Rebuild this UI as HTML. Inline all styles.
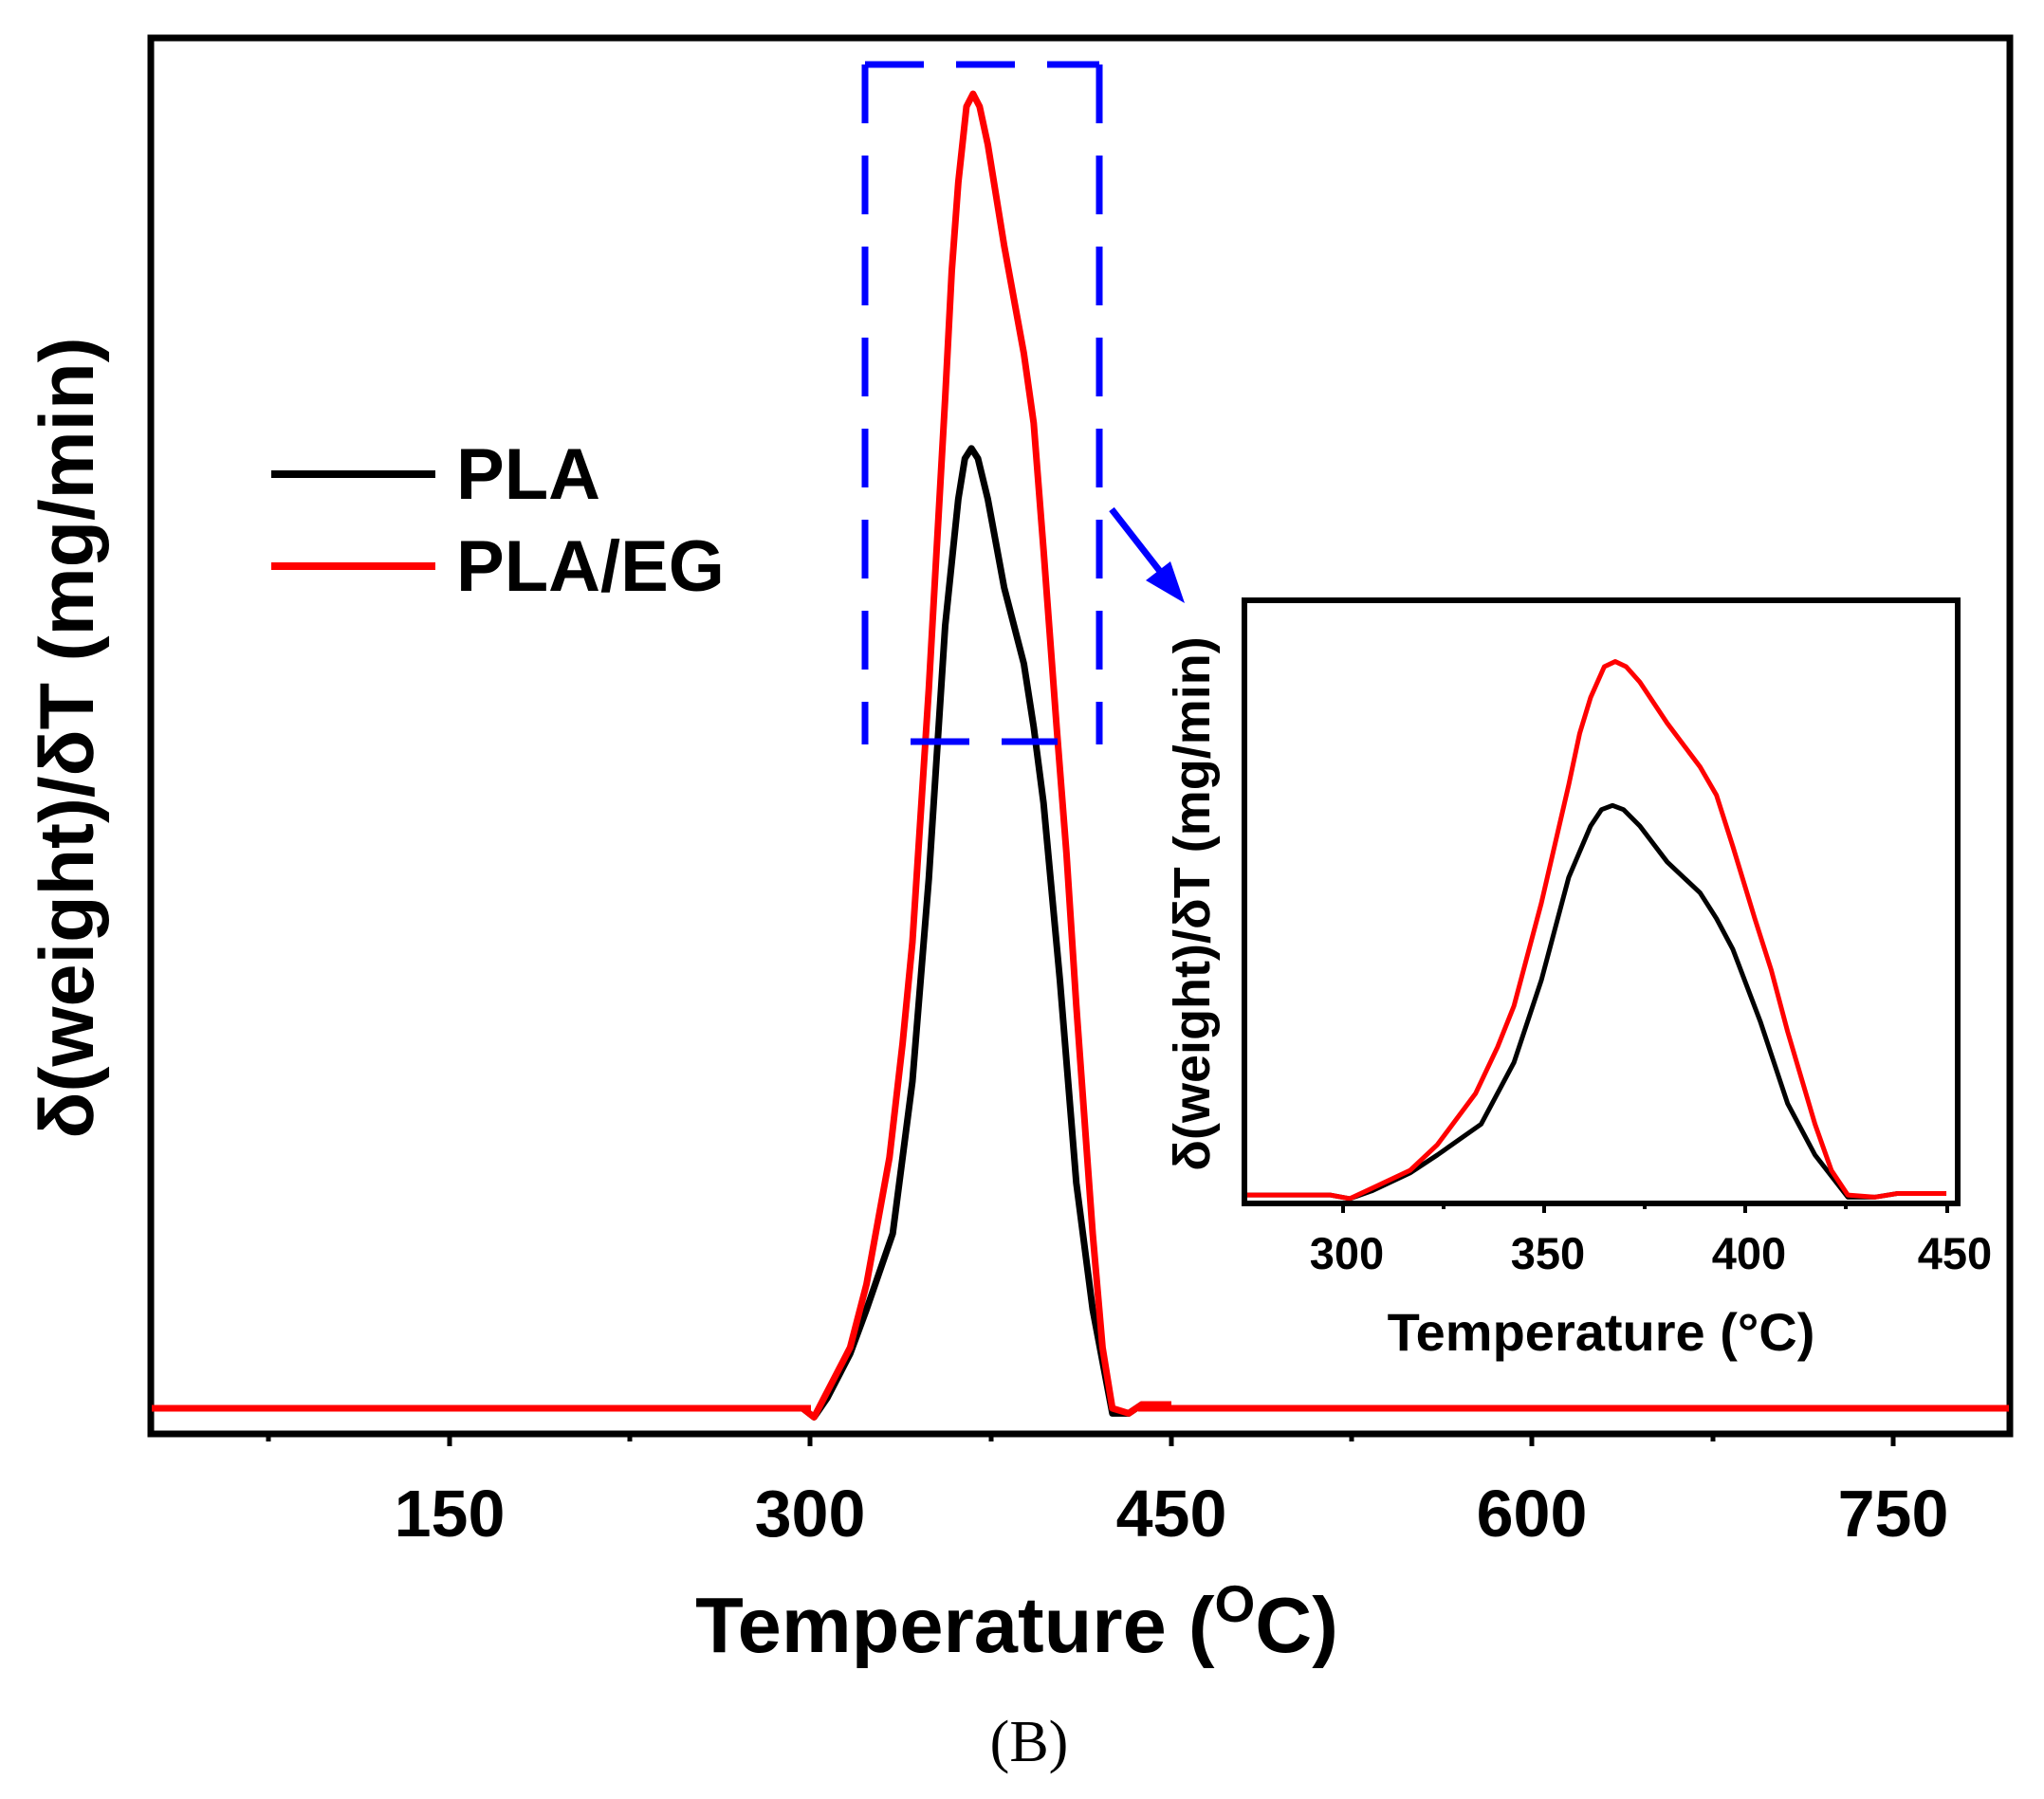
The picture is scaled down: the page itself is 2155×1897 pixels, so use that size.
<!DOCTYPE html>
<html><head><meta charset="utf-8"><style>
html,body{margin:0;padding:0;background:#fff;}
svg{display:block;}
text{font-family:"Liberation Sans",Arial,sans-serif;font-weight:bold;fill:#000;}
</style></head><body>
<svg width="2155" height="1897" viewBox="0 0 2155 1897" xmlns="http://www.w3.org/2000/svg">
<defs>
<polyline id="red" fill="none" vector-effect="non-scaling-stroke" stroke-linejoin="round" points="100,1218 265,1218 300,1225 340,1205 410,1170 460,1120 530,1020 570,930 600,850 650,650 700,420 720,320 740,250 765,190 785,180 805,190 830,220 880,300 940,385 970,440 1000,540 1040,680 1070,780 1100,900 1150,1080 1180,1170 1210,1218 1260,1222 1300,1215 1390,1215"/>
<polyline id="blk" fill="none" vector-effect="non-scaling-stroke" stroke-linejoin="round" points="100,1218 265,1218 300,1225 340,1210 410,1175 460,1140 540,1080 600,960 650,800 700,600 740,500 760,468 780,460 800,468 830,500 880,570 940,630 970,680 1000,740 1050,880 1100,1040 1150,1140 1210,1222 1260,1222 1300,1215 1390,1215"/>
</defs>
<rect x="159" y="40" width="1960" height="1472" fill="none" stroke="#000" stroke-width="7"/>
<g transform="matrix(0.3456,0,0,1.3353,754.6,-141.4)">
<use href="#blk" stroke="#000" stroke-width="7"/>
<use href="#red" stroke="#f00" stroke-width="7"/>
</g>
<line x1="160" y1="1485" x2="855" y2="1485" stroke="#f00" stroke-width="7"/>
<line x1="1200" y1="1485" x2="2118" y2="1485" stroke="#f00" stroke-width="7"/>
<g stroke="#000" stroke-width="5">
<line x1="474" y1="1512" x2="474" y2="1525"/><line x1="854" y1="1512" x2="854" y2="1525"/>
<line x1="1235" y1="1512" x2="1235" y2="1525"/><line x1="1615" y1="1512" x2="1615" y2="1525"/>
<line x1="1996" y1="1512" x2="1996" y2="1525"/>
<line x1="283" y1="1512" x2="283" y2="1520"/><line x1="664" y1="1512" x2="664" y2="1520"/>
<line x1="1045" y1="1512" x2="1045" y2="1520"/><line x1="1425" y1="1512" x2="1425" y2="1520"/>
<line x1="1806" y1="1512" x2="1806" y2="1520"/>
</g>
<g font-size="70" text-anchor="middle">
<text x="474" y="1620">150</text><text x="854" y="1620">300</text><text x="1235" y="1620">450</text>
<text x="1615" y="1620">600</text><text x="1996" y="1620">750</text>
</g>
<text x="1072" y="1742" font-size="83" text-anchor="middle">Temperature (<tspan font-size="55" dy="-32">O</tspan><tspan dy="32">C)</tspan></text>
<text x="1085" y="1857" font-size="62" text-anchor="middle" style="font-family:'Liberation Serif',serif;font-weight:normal">(B)</text>
<text transform="translate(98,778) rotate(-90)" font-size="81" text-anchor="middle">δ(weight)/δT (mg/min)</text>
<line x1="286" y1="500" x2="459" y2="500" stroke="#000" stroke-width="8"/>
<line x1="286" y1="597" x2="459" y2="597" stroke="#f00" stroke-width="8"/>
<text x="481" y="526" font-size="76">PLA</text>
<text x="481" y="623" font-size="76">PLA/EG</text>
<g stroke="#00f" stroke-width="7" fill="none">
<line x1="912" y1="68" x2="912" y2="785" stroke-dasharray="62,34"/>
<line x1="1159" y1="68" x2="1159" y2="785" stroke-dasharray="62,34"/>
<line x1="912" y1="68" x2="1159" y2="68" stroke-dasharray="62,34"/>
<line x1="960" y1="782" x2="1115" y2="782" stroke-dasharray="62,34"/>
<line x1="1172" y1="537" x2="1225" y2="605"/>
</g>
<polygon points="1249,636 1208,612 1234,592" fill="#00f"/>
<rect x="1312" y="633" width="752" height="636" fill="#fff" stroke="#000" stroke-width="6"/>
<svg x="1315" y="636" width="746" height="630" overflow="hidden">
<g transform="translate(-65,-36) scale(0.577,0.542)">
<use href="#blk" stroke="#000" stroke-width="5"/>
<use href="#red" stroke="#f00" stroke-width="5"/>
</g>
</svg>
<g stroke="#000" stroke-width="4">
<line x1="1416" y1="1269" x2="1416" y2="1279"/><line x1="1628" y1="1269" x2="1628" y2="1279"/>
<line x1="1840" y1="1269" x2="1840" y2="1279"/><line x1="2053" y1="1269" x2="2053" y2="1279"/>
<line x1="1522" y1="1269" x2="1522" y2="1275"/><line x1="1734" y1="1269" x2="1734" y2="1275"/>
<line x1="1946" y1="1269" x2="1946" y2="1275"/>
</g>
<g font-size="47" text-anchor="middle">
<text x="1420" y="1338">300</text><text x="1632" y="1338">350</text><text x="1844" y="1338">400</text><text x="2061" y="1338">450</text>
</g>
<text x="1688" y="1424" font-size="56" text-anchor="middle">Temperature (°C)</text>
<text transform="translate(1275,953) rotate(-90)" font-size="54" text-anchor="middle">δ(weight)/δT (mg/min)</text>
</svg>
</body></html>
